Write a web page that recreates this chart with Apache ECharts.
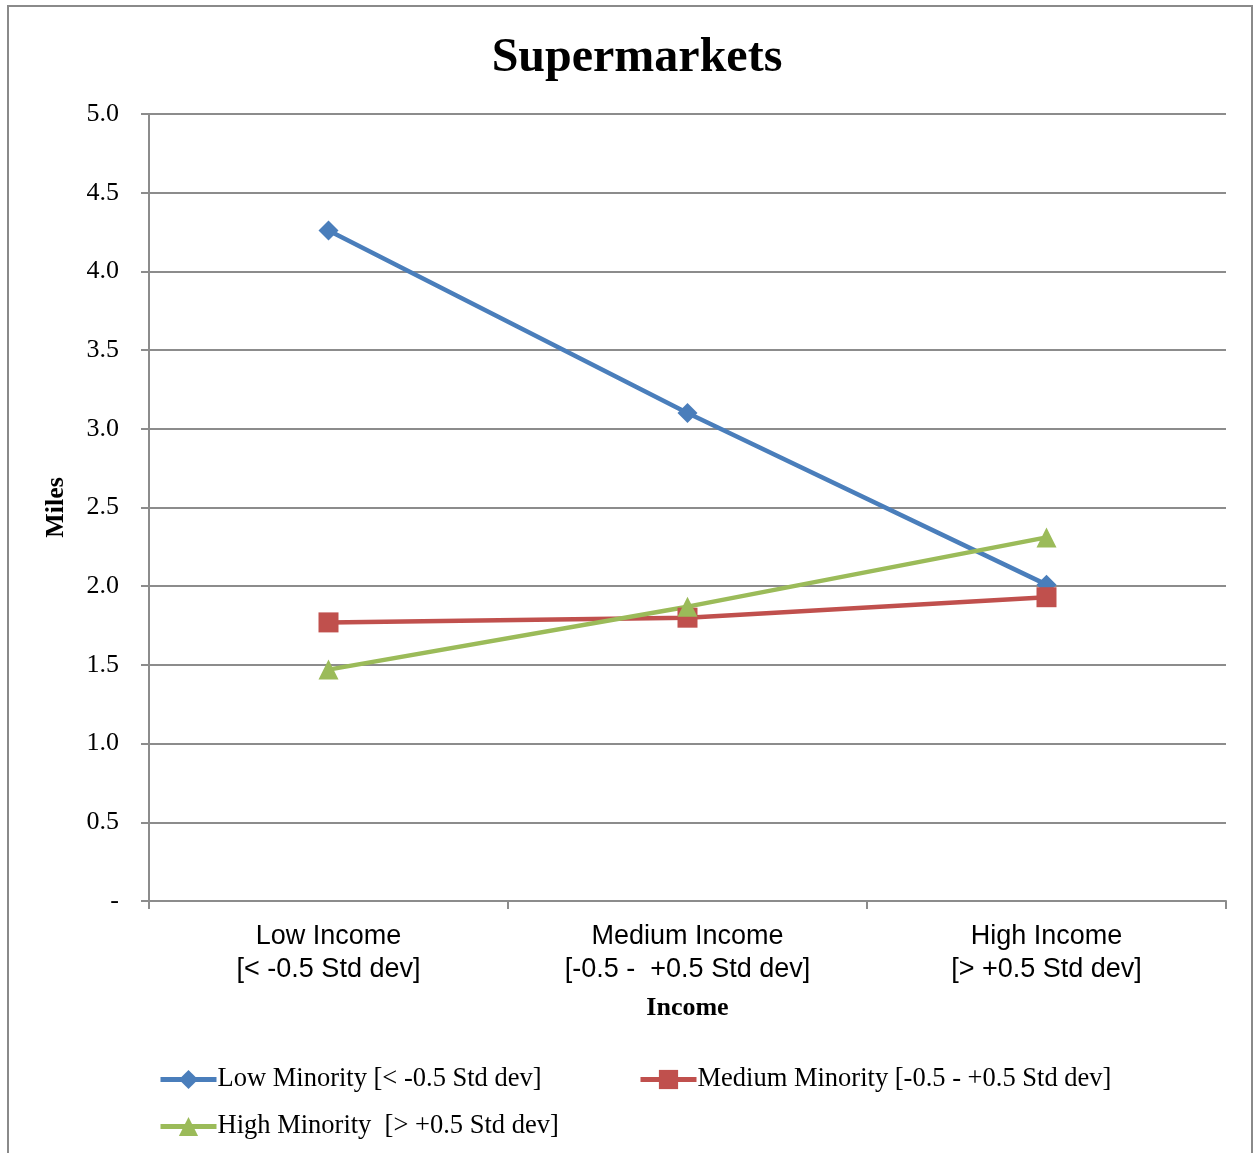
<!DOCTYPE html>
<html>
<head>
<meta charset="utf-8">
<script src="https://cdn.jsdelivr.net/npm/echarts@6/dist/echarts.min.js"></script>
<style>
  html, body { margin: 0; padding: 0; background: #fff; }
  #chart { width: 1253px; height: 1153px; }
</style>
</head>
<body>
<div id="chart"></div>
<script>
// Income categories (two-line axis labels)
const categories = [
  'Low Income\n[< -0.5 Std dev]',
  'Medium Income\n[-0.5 -  +0.5 Std dev]',
  'High Income\n[> +0.5 Std dev]'
];

// Average distance to nearest supermarket, in miles
const lowMinority = [4.26, 3.10, 2.01];
const mediumMinority = [1.77, 1.80, 1.93];
const highMinority = [1.47, 1.87, 2.31];

const seriesNames = [
  'Low Minority [< -0.5 Std dev]',
  'Medium Minority [-0.5 - +0.5 Std dev]',
  'High Minority  [> +0.5 Std dev]'
];

const SERIF = '"Liberation Serif", "Times New Roman", serif';
const SANS = '"Liberation Sans", Arial, sans-serif';
const GRID_GRAY = '#8c8c8c';

const chart = echarts.init(document.getElementById('chart'), null, { renderer: 'canvas' });

function legendAt(name, left, top) {
  return {
    data: [name],
    left: left,
    top: top,
    orient: 'horizontal',
    padding: 0,
    itemWidth: 56,
    itemHeight: 24,
    itemGap: 0,
    selectedMode: false,
    lineStyle: { width: 5 },
    textStyle: { fontFamily: SERIF, fontSize: 26.5, color: '#000', padding: [0, 0, 0, -4] }
  };
}

function lineSeries(name, data, color, symbol, size) {
  return {
    name: name,
    type: 'line',
    data: data,
    symbol: symbol,
    symbolSize: size,
    showAllSymbol: true,
    lineStyle: { width: 4.5, color: color },
    itemStyle: { color: color },
    emphasis: { disabled: true },
    animation: false
  };
}

chart.setOption({
  backgroundColor: '#fff',
  animation: false,
  graphic: [{
    type: 'rect',
    shape: { x: 8, y: 6, width: 1244, height: 1200 },
    style: { fill: 'none', stroke: '#8a8a8a', lineWidth: 2 },
    silent: true
  }],
  title: {
    text: 'Supermarkets',
    left: 632,
    top: 30,
    textAlign: 'center',
    textStyle: { fontFamily: SERIF, fontWeight: 'bold', fontSize: 48, color: '#000' }
  },
  legend: [
    legendAt(seriesNames[0], 158, 1066),
    legendAt(seriesNames[1], 638, 1066),
    legendAt(seriesNames[2], 158, 1113)
  ],
  grid: { left: 149, right: 27, top: 114, bottom: 252, containLabel: false },
  xAxis: {
    type: 'category',
    data: categories,
    boundaryGap: true,
    name: 'Income',
    nameLocation: 'middle',
    nameGap: 94,
    nameTextStyle: { fontFamily: SERIF, fontWeight: 'bold', fontSize: 26, color: '#000' },
    axisLine: { show: true, lineStyle: { color: GRID_GRAY, width: 2 } },
    axisTick: { show: true, length: 8, alignWithLabel: false, lineStyle: { color: GRID_GRAY, width: 2 } },
    axisLabel: {
      fontFamily: SANS, fontSize: 27, color: '#000',
      lineHeight: 33, margin: 19, interval: 0
    },
    splitLine: { show: false }
  },
  yAxis: {
    type: 'value',
    min: 0,
    max: 5,
    interval: 0.5,
    name: 'Miles',
    nameLocation: 'middle',
    nameGap: 80,
    nameRotate: 90,
    nameTextStyle: { fontFamily: SERIF, fontWeight: 'bold', fontSize: 26, color: '#000' },
    axisLine: { show: true, lineStyle: { color: GRID_GRAY, width: 2 } },
    axisTick: { show: true, length: 8, lineStyle: { color: GRID_GRAY, width: 2 } },
    axisLabel: {
      fontFamily: SERIF, fontSize: 26, color: '#000', margin: 30,
      padding: [5, 0, 0, 0],
      formatter: v => (v === 0 ? '-' : v.toFixed(1))
    },
    splitLine: { show: true, lineStyle: { color: GRID_GRAY, width: 2 } }
  },
  series: [
    lineSeries(seriesNames[0], lowMinority, '#4a7ebb', 'diamond', 20),
    lineSeries(seriesNames[1], mediumMinority, '#c0504d', 'rect', 20),
    lineSeries(seriesNames[2], highMinority, '#9bbb59', 'triangle', 20)
  ]
});
</script>
</body>
</html>
